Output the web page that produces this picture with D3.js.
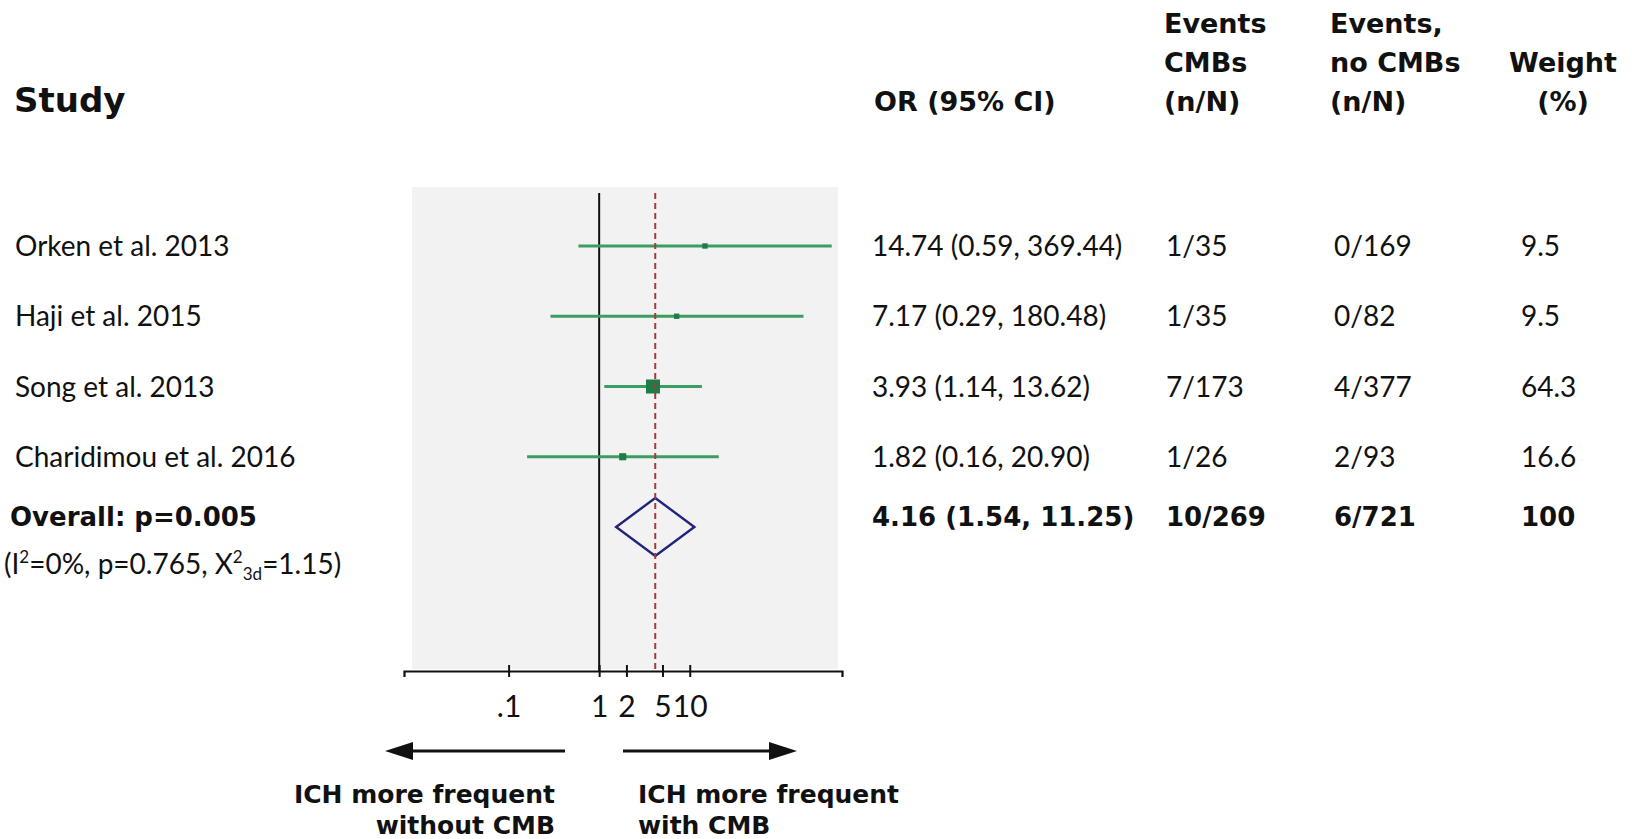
<!DOCTYPE html>
<html>
<head>
  <meta charset="utf-8">
  <script src="https://d3js.org/d3.v7.min.js"></script>
  <style>
    body { margin: 0; background: #fff; }
    svg { display: block; }
    text { font-family: Lato, "Open Sans", sans-serif; fill: #111; }
    .bold { font-family: "DejaVu Sans", sans-serif; font-weight: 700; }
  </style>
</head>
<body>
<script>
  // ---- data ----
  var studies = ["Orken et al. 2013", "Haji et al. 2015", "Song et al. 2013", "Charidimou et al. 2016"];
  var oddsRatio = [14.74, 7.17, 3.93, 1.82];
  var ciLow = [0.59, 0.29, 1.14, 0.16];
  var ciHigh = [369.44, 180.48, 13.62, 20.90];
  var eventsCMB = ["1/35", "1/35", "7/173", "1/26"];
  var eventsNoCMB = ["0/169", "0/82", "4/377", "2/93"];
  var weights = [9.5, 9.5, 64.3, 16.6];

  var overallOR = 4.16, overallLow = 1.54, overallHigh = 11.25;
  var overallCMB = "10/269", overallNoCMB = "6/721", overallWeight = 100;

  var tickValues = [0.1, 1, 2, 5, 10];
  var tickLabels = [".1", "1", "2", "5", "10"];

  var fmt = d3.format(".2f");

  var width = 1632, height = 839;

  var svg = d3.select("body")
    .append("svg")
      .attr("width", width)
      .attr("height", height);

  // log scale for odds ratios, the axis line spans the whole range
  var x = d3.scaleLog()
    .domain([0.007, 480])
    .range([404, 842]);

  // one slot per study plus one for the pooled estimate
  var y = d3.scalePoint()
    .domain(d3.range(studies.length + 1))
    .range([246, 527]);

  var boxSize = d3.scaleSqrt()
    .domain([0, 64.3])
    .range([0, 14]);

  // grey plotting panel
  svg.append("rect")
    .attr("x", 412)
    .attr("y", 187)
    .attr("width", 426)
    .attr("height", 482)
    .style("fill", "#f2f2f2");

  // line of no effect
  svg.append("line")
    .attr("x1", x(1)).attr("x2", x(1))
    .attr("y1", 193).attr("y2", 671)
    .style("stroke", "#111")
    .style("stroke-width", 2);

  // confidence intervals
  var rows = d3.range(studies.length);

  svg.selectAll(".ci")
    .data(rows)
    .enter()
    .append("line")
      .attr("class", "ci")
      .attr("x1", function (i) { return x(ciLow[i]); })
      .attr("x2", function (i) { return x(ciHigh[i]); })
      .attr("y1", function (i) { return y(i); })
      .attr("y2", function (i) { return y(i); })
      .style("stroke", "#3a9d62")
      .style("stroke-width", 2.8);

  // weighted boxes
  svg.selectAll(".box")
    .data(rows)
    .enter()
    .append("rect")
      .attr("class", "box")
      .attr("x", function (i) { return x(oddsRatio[i]) - boxSize(weights[i]) / 2; })
      .attr("y", function (i) { return y(i) - boxSize(weights[i]) / 2; })
      .attr("width", function (i) { return boxSize(weights[i]); })
      .attr("height", function (i) { return boxSize(weights[i]); })
      .style("fill", "#1f7c44");

  // pooled estimate diamond
  var yo = y(studies.length);
  svg.append("path")
    .attr("d", "M" + x(overallLow) + "," + yo +
               "L" + x(overallOR) + "," + (yo - 29) +
               "L" + x(overallHigh) + "," + yo +
               "L" + x(overallOR) + "," + (yo + 29) + "Z")
    .style("fill", "none")
    .style("stroke", "#23237a")
    .style("stroke-width", 2.4);

  // dashed line at the pooled estimate
  svg.append("line")
    .attr("x1", x(overallOR)).attr("x2", x(overallOR))
    .attr("y1", 193).attr("y2", 671)
    .style("stroke", "#a8383a")
    .style("stroke-width", 2)
    .style("stroke-dasharray", "6,4");

  // x axis
  var axis = svg.append("g")
    .attr("transform", "translate(0,671)")
    .call(d3.axisBottom(x)
      .tickValues(tickValues)
      .tickFormat(function (d, i) { return tickLabels[i]; })
      .tickSizeOuter(0)
      .tickSize(6)
      .tickPadding(19));

  axis.select(".domain").style("stroke", "#111").style("stroke-width", 2.2);
  axis.selectAll(".tick line")
    .attr("y1", -6)
    .style("stroke", "#111")
    .style("stroke-width", 2);
  axis.selectAll(".tick text")
    .style("font-family", "Lato, sans-serif")
    .style("font-size", "30px")
    .style("fill", "#111");

  // column headers
  svg.append("text")
    .attr("class", "bold")
    .attr("x", 14).attr("y", 112)
    .style("font-size", "34px")
    .text("Study");

  svg.append("text")
    .attr("class", "bold")
    .attr("x", 874).attr("y", 111)
    .style("font-size", "27px")
    .text("OR (95% CI)");

  svg.selectAll("hdr_cmb")
    .data(["Events", "CMBs", "(n/N)"])
    .enter()
    .append("text")
      .attr("class", "bold")
      .attr("x", 1164)
      .attr("y", function (d, i) { return 33 + i * 39; })
      .style("font-size", "27px")
      .text(function (d) { return d; });

  svg.selectAll("hdr_nocmb")
    .data(["Events,", "no CMBs", "(n/N)"])
    .enter()
    .append("text")
      .attr("class", "bold")
      .attr("x", 1330)
      .attr("y", function (d, i) { return 33 + i * 39; })
      .style("font-size", "27px")
      .text(function (d) { return d; });

  svg.selectAll("hdr_weight")
    .data(["Weight", "(%)"])
    .enter()
    .append("text")
      .attr("class", "bold")
      .attr("x", 1563)
      .attr("y", function (d, i) { return 72 + i * 39; })
      .attr("text-anchor", "middle")
      .style("font-size", "27px")
      .text(function (d) { return d; });

  // study rows: label and table columns
  var rowText = svg.selectAll(".row")
    .data(rows)
    .enter()
    .append("g")
      .attr("class", "row")
      .attr("transform", function (i) { return "translate(0," + (y(i) + 10) + ")"; })
      .style("font-size", "28px");

  rowText.append("text").attr("x", 15).text(function (i) { return studies[i]; });
  rowText.append("text").attr("x", 872)
    .text(function (i) { return fmt(oddsRatio[i]) + " (" + fmt(ciLow[i]) + ", " + fmt(ciHigh[i]) + ")"; });
  rowText.append("text").attr("x", 1166).text(function (i) { return eventsCMB[i]; });
  rowText.append("text").attr("x", 1334).text(function (i) { return eventsNoCMB[i]; });
  rowText.append("text").attr("x", 1521).text(function (i) { return weights[i]; });

  // pooled row
  var overall = svg.append("g")
    .attr("class", "bold")
    .attr("transform", "translate(0," + (yo - 1) + ")")
    .style("font-size", "26px");

  overall.append("text").attr("class", "bold").attr("x", 10).text("Overall: p=0.005");
  overall.append("text").attr("class", "bold").attr("x", 872)
    .text(fmt(overallOR) + " (" + fmt(overallLow) + ", " + fmt(overallHigh) + ")");
  overall.append("text").attr("class", "bold").attr("x", 1166).text(overallCMB);
  overall.append("text").attr("class", "bold").attr("x", 1334).text(overallNoCMB);
  overall.append("text").attr("class", "bold").attr("x", 1521).text(overallWeight);

  // heterogeneity line
  var het = svg.append("text")
    .attr("x", 4).attr("y", yo + 47)
    .style("font-size", "28px");
  het.append("tspan").text("(I");
  het.append("tspan").attr("dy", -11).style("font-size", "17px").text("2");
  het.append("tspan").attr("dy", 11).text("=0%, p=0.765, X");
  het.append("tspan").attr("dy", -11).style("font-size", "17px").text("2");
  het.append("tspan").attr("dy", 17).style("font-size", "17px").text("3d");
  het.append("tspan").attr("dy", -6).text("=1.15)");

  // direction arrows
  var arrowY = 751;
  svg.append("line")
    .attr("x1", 565).attr("x2", 405)
    .attr("y1", arrowY).attr("y2", arrowY)
    .style("stroke", "#111").style("stroke-width", 3);
  svg.append("path")
    .attr("d", "M385," + arrowY + "L413," + (arrowY - 9) + "L413," + (arrowY + 9) + "Z")
    .style("fill", "#111");

  svg.append("line")
    .attr("x1", 623).attr("x2", 775)
    .attr("y1", arrowY).attr("y2", arrowY)
    .style("stroke", "#111").style("stroke-width", 3);
  svg.append("path")
    .attr("d", "M797," + arrowY + "L769," + (arrowY - 9) + "L769," + (arrowY + 9) + "Z")
    .style("fill", "#111");

  svg.selectAll("lab_left")
    .data(["ICH more frequent", "without CMB"])
    .enter()
    .append("text")
      .attr("class", "bold")
      .attr("x", 555)
      .attr("y", function (d, i) { return 803 + i * 31; })
      .attr("text-anchor", "end")
      .style("font-size", "25px")
      .text(function (d) { return d; });

  svg.selectAll("lab_right")
    .data(["ICH more frequent", "with CMB"])
    .enter()
    .append("text")
      .attr("class", "bold")
      .attr("x", 638)
      .attr("y", function (d, i) { return 803 + i * 31; })
      .style("font-size", "25px")
      .text(function (d) { return d; });
</script>
</body>
</html>
